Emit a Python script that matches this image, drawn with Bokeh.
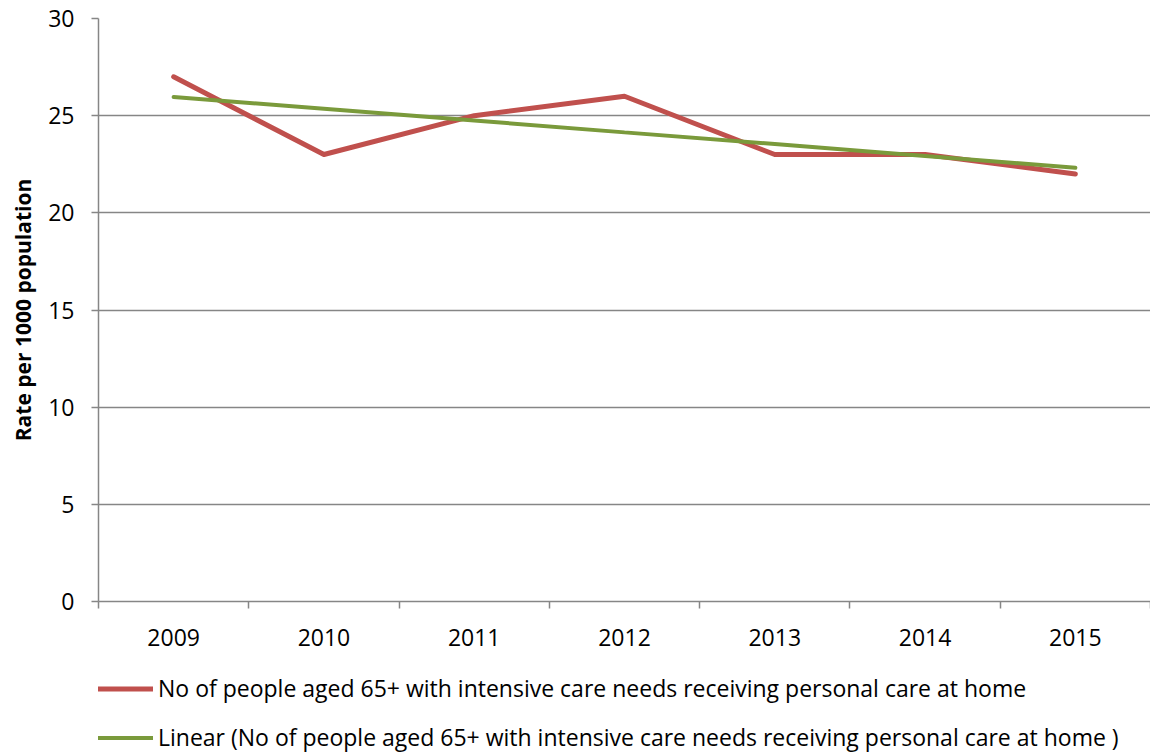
from bokeh.plotting import figure
from bokeh.models import FixedTicker, Legend, LegendItem
from bokeh.layouts import column
from bokeh.embed import file_html
from bokeh.resources import INLINE

years = [2009, 2010, 2011, 2012, 2013, 2014, 2015]
rate = [27, 23, 25, 26, 23, 23, 22]
trend = [25.96, 25.36, 24.75, 24.14, 23.54, 22.93, 22.32]
y_ticks = [0, 5, 10, 15, 20, 25, 30]
series_name = "No of people aged 65+ with intensive care needs receiving personal care at home"
trend_name = "Linear (No of people aged 65+ with intensive care needs receiving personal care at home )"

FONT = "Open Sans"
GRAY = "#868686"
RED = "#C0504D"
GREEN = "#7A9A3B"

p = figure(width=1150, height=665, output_backend="svg", toolbar_location=None,
           x_range=(2008.5, 2015.5), y_range=(0, 30),
           min_border_left=98, min_border_right=0, min_border_top=18, min_border_bottom=64)
p.outline_line_color = None
p.background_fill_color = "white"

p.line(years, rate, line_color=RED, line_width=5, line_cap="round", line_join="round")
p.line(years, trend, line_color=GREEN, line_width=4, line_cap="round")

# x axis
p.xaxis.ticker = FixedTicker(ticks=years, minor_ticks=[y + 0.5 for y in [2008] + years])
p.xaxis.major_tick_out = 0
p.xaxis.major_tick_in = 0
p.xaxis.minor_tick_out = 7
p.xaxis.minor_tick_in = 0
p.xaxis.minor_tick_line_color = GRAY
p.xaxis.minor_tick_line_width = 1.5
p.xaxis.axis_line_color = GRAY
p.xaxis.axis_line_width = 1.5
p.xaxis.major_label_text_font = FONT
p.xaxis.major_label_text_font_size = "23px"
p.xaxis.major_label_text_color = "black"
p.xaxis.major_label_standoff = 20
p.xgrid.grid_line_color = None

# y axis
p.yaxis.ticker = FixedTicker(ticks=y_ticks, minor_ticks=[])
p.yaxis.major_tick_out = 7
p.yaxis.major_tick_in = 0
p.yaxis.major_tick_line_color = GRAY
p.yaxis.major_tick_line_width = 1.5
p.yaxis.axis_line_color = GRAY
p.yaxis.axis_line_width = 1.5
p.yaxis.major_label_text_font = FONT
p.yaxis.major_label_text_font_size = "23px"
p.yaxis.major_label_text_color = "black"
p.yaxis.major_label_standoff = 17
p.yaxis.axis_label = "Rate per 1000 population"
p.yaxis.axis_label_text_font = FONT
p.yaxis.axis_label_text_font_style = "bold"
p.yaxis.axis_label_text_font_size = "21px"
p.yaxis.axis_label_text_color = "black"
p.yaxis.axis_label_standoff = 8
p.ygrid.grid_line_color = GRAY
p.ygrid.grid_line_width = 1.5

# legend strip below the chart (series lines lie outside its view; only the legend shows)
lg = figure(width=1150, height=88, output_backend="svg", toolbar_location=None,
            x_range=(0, 1), y_range=(0, 1), x_axis_location=None, y_axis_location=None,
            min_border_left=0, min_border_right=0, min_border_top=0, min_border_bottom=0)
lg.outline_line_color = None
lg.xgrid.grid_line_color = None
lg.ygrid.grid_line_color = None
l1 = lg.line(years, rate, line_color=RED, line_width=5, line_cap="round")
l2 = lg.line(years, trend, line_color=GREEN, line_width=4, line_cap="round")

legend = Legend(items=[LegendItem(label=series_name, renderers=[l1]),
                       LegendItem(label=trend_name, renderers=[l2])],
                location=(0, 0), orientation="vertical",
                padding=0, margin=0, spacing=17, border_line_color=None,
                background_fill_alpha=0, glyph_width=55, glyph_height=31,
                label_height=31, label_standoff=5,
                label_text_font=FONT, label_text_font_size="23px", label_text_color="black")
lg.add_layout(legend, "center")

layout = column(p, lg, spacing=0)
open("out.html", "w").write(file_html(layout, INLINE))
